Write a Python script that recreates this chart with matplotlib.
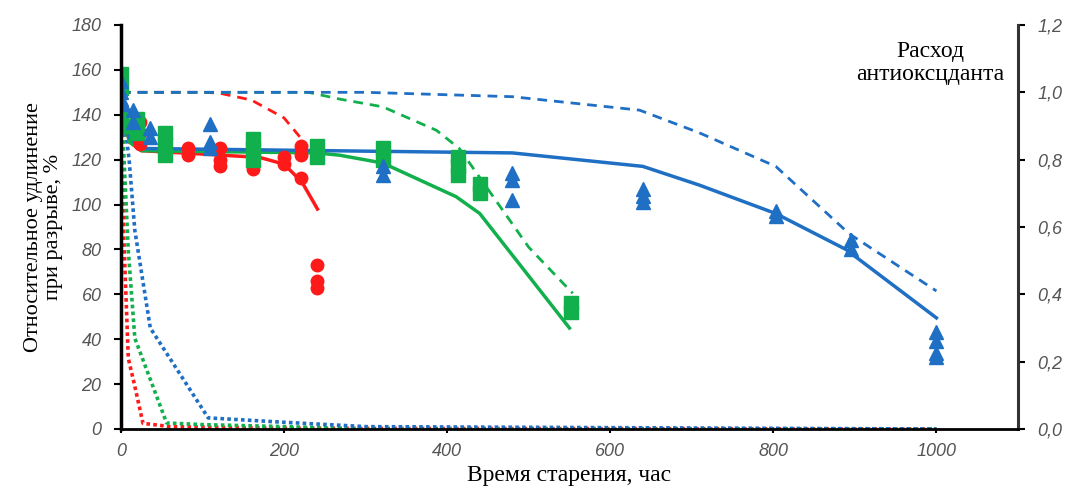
import matplotlib
matplotlib.use("Agg")
import matplotlib.pyplot as plt
from matplotlib.ticker import FuncFormatter

# ---- data (hours vs relative elongation %, antioxidant consumption fraction)
# measured points (replicates)
red_x = [0, 0, 0, 5, 23, 23, 23, 82, 82, 121, 121, 121, 162, 200, 200, 221, 221, 221, 240, 240, 240]
red_y = [157, 150, 136, 135, 137, 132, 127, 125, 122, 125, 120, 117, 116, 121, 118, 126, 122, 112, 73, 66, 63]

green_x = [0, 0, 0, 0, 10, 20, 20, 54, 54, 54, 162, 162, 162, 240, 240, 321, 321, 413, 413, 413, 440, 440, 552, 552]
green_y = [158, 152, 140, 135, 135, 138, 132, 132, 127, 122, 129, 125, 120, 126, 121, 125, 120, 121, 117, 113, 109, 105, 56, 52]

blue_x = [0, 0, 0, 3, 15, 15, 36, 36, 109, 109, 109, 321, 321, 480, 480, 480, 640, 640, 640, 803, 803, 895, 895, 1000, 1000, 1000, 1000]
blue_y = [155, 150, 147, 145, 142, 137, 134, 130, 136, 128, 125, 117, 113, 114, 111, 102, 107, 104, 101, 97, 95, 84, 80, 43, 39, 34, 32]

# model curves, elongation (solid)
red_fit_x = [0, 10, 25, 100, 170, 200, 222, 241]
red_fit_y = [150, 128, 124, 122.5, 121, 118, 110, 98]
green_fit_x = [0, 10, 25, 240, 268, 321, 411, 440, 550]
green_fit_y = [150, 128, 124, 123, 122, 118.5, 103.5, 96, 45]
blue_fit_x = [0, 10, 25, 480, 640, 709, 803, 889, 1000]
blue_fit_y = [150, 130, 125, 123, 117, 108.7, 96, 80, 49.5]

# antioxidant consumption (dashed), right axis
red_ao_x = [0, 100, 120, 160, 200, 222]
red_ao_y = [1.0, 1.0, 0.998, 0.977, 0.924, 0.86]
green_ao_x = [0, 230, 268, 321, 387, 415, 500, 554]
green_ao_y = [1.0, 1.0, 0.98, 0.957, 0.887, 0.833, 0.54, 0.403]
blue_ao_x = [0, 300, 480, 636, 709, 803, 893, 1000]
blue_ao_y = [1.0, 1.0, 0.987, 0.947, 0.88, 0.78, 0.58, 0.41]

# second antioxidant (dotted), right axis
red_ao2_x = [0, 3, 9, 17, 27, 60, 200, 1000]
red_ao2_y = [1.0, 0.6, 0.21, 0.127, 0.017, 0.007, 0.002, 0]
green_ao2_x = [0, 9, 17, 56, 100, 200, 300, 1000]
green_ao2_y = [1.0, 0.53, 0.27, 0.018, 0.013, 0.007, 0.0, 0]
blue_ao2_x = [0, 10, 17, 36, 107, 200, 300, 1000]
blue_ao2_y = [1.0, 0.8, 0.59, 0.30, 0.033, 0.02, 0.007, 0]

RED = "#ff1a1a"
GREEN = "#12b04c"
BLUE = "#1f6fc4"

fig = plt.figure(figsize=(10.78, 4.9), dpi=100)
ax = fig.add_axes([0.1122, 0.1245, 0.8321, 0.8245])
ax2 = ax.twinx()

serif = "Liberation Serif"

# dotted
dot = (0, (1, 0.9))
ax2.plot(red_ao2_x, red_ao2_y, color=RED, lw=2.6, ls=dot)
ax2.plot(green_ao2_x, green_ao2_y, color=GREEN, lw=2.6, ls=dot)
ax2.plot(blue_ao2_x, blue_ao2_y, color=BLUE, lw=2.6, ls=dot)

# dashed
dash = (0, (3.5, 2.5))
ax2.plot(red_ao_x, red_ao_y, color=RED, lw=2.0, ls=dash)
ax2.plot(green_ao_x, green_ao_y, color=GREEN, lw=2.0, ls=dash)
ax2.plot(blue_ao_x, blue_ao_y, color=BLUE, lw=2.0, ls=dash)

# solid fits
ax.plot(red_fit_x, red_fit_y, color=RED, lw=2.5)
ax.plot(green_fit_x, green_fit_y, color=GREEN, lw=2.5)
ax.plot(blue_fit_x, blue_fit_y, color=BLUE, lw=2.5)

# markers
ax.plot(red_x, red_y, ls="none", marker="o", ms=9, color=RED)
ax.plot(green_x, green_y, ls="none", marker="s", ms=10, color=GREEN)
ax.plot(blue_x, blue_y, ls="none", marker="^", ms=10, color=BLUE)

ax.set_zorder(ax2.get_zorder() + 1)
ax.patch.set_visible(False)

ax.set_xlim(0, 1100)
ax.set_ylim(0, 180)
ax2.set_ylim(0, 1.2)
ax.set_xticks(range(0, 1001, 200))
ax.set_yticks(range(0, 181, 20))
ax2.set_yticks([0, 0.2, 0.4, 0.6, 0.8, 1.0, 1.2])
ax2.yaxis.set_major_formatter(FuncFormatter(lambda v, p: ("%.1f" % v).replace(".", ",")))

for a in (ax, ax2):
    a.spines["top"].set_visible(False)
ax.spines["left"].set_linewidth(2.5)
ax.spines["bottom"].set_linewidth(2.0)
ax2.spines["right"].set_linewidth(2.2)
ax2.spines["right"].set_color("#333333")
ax2.spines["left"].set_visible(False)
ax2.spines["bottom"].set_visible(False)
ax.spines["right"].set_visible(False)

ax.tick_params(axis="y", direction="out", length=5, width=1.5, pad=9)
ax.tick_params(axis="x", direction="out", length=3, width=1.5, pad=7)
ax2.tick_params(axis="y", direction="out", length=5, width=1.5, pad=9)
for lab in ax.get_xticklabels() + ax.get_yticklabels() + ax2.get_yticklabels():
    lab.set_fontfamily("Liberation Sans")
    lab.set_fontstyle("italic")
    lab.set_fontsize(13)
    lab.set_color("#555555")

ax.set_xlabel("Время старения, час", family=serif, fontsize=17, labelpad=4)
ax.set_ylabel("Относительное удлинение\nпри разрыве, %", family=serif, fontsize=16,
              linespacing=1.1, labelpad=6)

ax.text(0.985, 0.96, "Расход\nантиоксцданта", transform=ax.transAxes, ha="right", va="top",
        family=serif, fontsize=17, linespacing=1.1, multialignment="center")

fig.savefig("out.png", dpi=100)
